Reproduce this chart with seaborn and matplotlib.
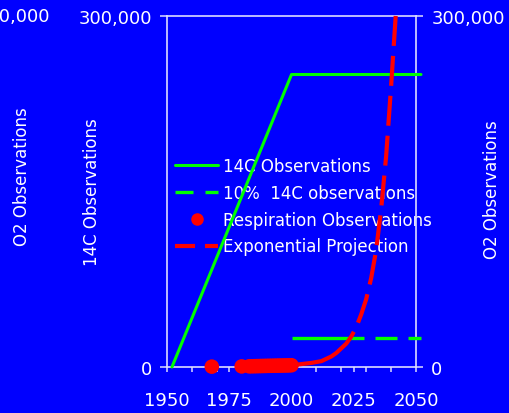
import matplotlib
matplotlib.use("Agg")
import matplotlib.pyplot as plt
from matplotlib.lines import Line2D
from matplotlib.ticker import MultipleLocator, FuncFormatter
import seaborn as sns

# ---- data -------------------------------------------------------------
c14_years = [1952, 2000, 2052]
c14_obs = [0, 250000, 250000]

c14_10pct_years = [2000, 2052]
c14_10pct_obs = [25000, 25000]

resp_years = [1968, 1980, 1983, 1984, 1985, 1986, 1987, 1988, 1989, 1990,
              1991, 1992, 1993, 1994, 1995, 1996, 1997, 1998, 1999, 2000]
resp_obs = [300, 500, 600, 650, 700, 750, 800, 850, 900, 950,
            1000, 1050, 1100, 1150, 1200, 1250, 1300, 1350, 1400, 1500]

proj_years = [2000, 2004, 2008, 2012, 2016, 2018, 2020, 2022, 2024, 2026,
              2028, 2030, 2032, 2034, 2036, 2038, 2040, 2042]
proj_obs = [1500, 2500, 3500, 5000, 9000, 12000, 16000, 20000, 26000, 34000,
            45000, 58000, 76000, 100000, 135000, 180000, 240000, 305000]

legend_labels = ["14C Observations", "10%  14C observations",
                 "Respiration Observations", "Exponential Projection"]

# ---- style ------------------------------------------------------------
BLUE = "#0000ff"
GREEN = "#00ff00"
RED = "#ff0000"
WHITE = "#ffffff"
SPINE = "#dcdcff"

sns.set_style("ticks")
plt.rcParams["font.family"] = ["DejaVu Sans"]
plt.rcParams["lines.scale_dashes"] = False

W, H = 509, 414
fig = plt.figure(figsize=(W / 100, H / 100), dpi=100, facecolor=BLUE)
x0, x1, y0, y1 = 167, 416, 17, 368
ax = fig.add_axes([x0 / W, 1 - y1 / H, (x1 - x0) / W, (y1 - y0) / H])
ax.set_facecolor(BLUE)


def px_dash(*seq):
    """dash pattern given in pixels -> points"""
    return (0, tuple(v * 0.72 for v in seq))


sns.lineplot(x=c14_years, y=c14_obs, ax=ax, color=GREEN, linewidth=2.2,
             clip_on=False, zorder=3)
sns.lineplot(x=c14_10pct_years, y=c14_10pct_obs, ax=ax, color=GREEN,
             linewidth=2.4, clip_on=False, zorder=3,
             linestyle=px_dash(72, 11, 22, 11, 22, 11))
sns.scatterplot(x=resp_years, y=resp_obs, ax=ax, color=RED, s=110,
                edgecolor="none", zorder=4, clip_on=False)
sns.lineplot(x=proj_years, y=proj_obs, ax=ax, color=RED, linewidth=3.0,
             clip_on=False, zorder=5,
             linestyle=px_dash(75, 10, 30, 10, 30, 10, 30, 10, 30, 10,
                               30, 10, 30, 10, 30, 10, 30, 10, 30, 10))

ax.set_xlim(1950, 2050)
ax.set_ylim(0, 300000)
ax.set_xticks([1950, 1975, 2000, 2025, 2050])
ax.xaxis.set_minor_locator(MultipleLocator(10))
ax.set_yticks([0, 300000])
ax.yaxis.set_major_formatter(FuncFormatter(lambda v, p: f"{int(v):,}"))

for s in ax.spines.values():
    s.set_color(SPINE)
    s.set_linewidth(1.2)

ax.tick_params(axis="x", which="both", direction="out", length=3.6,
               width=1.1, color=SPINE, labelcolor=WHITE, labelsize=13,
               pad=14)
ax.tick_params(axis="y", which="both", direction="out", length=5,
               width=1.1, color=SPINE, labelcolor=WHITE, labelsize=13,
               pad=6, left=True, right=True, labelleft=True, labelright=True)

ax.set_ylabel("14C Observations", color=WHITE, fontsize=12)
ax.yaxis.set_label_coords(-0.265, 0.5)
ax.set_xlabel("")

# outer O2 axis captions
fig.text(50 / W, 1 - 17 / H, "300,000", color=WHITE, fontsize=13,
         ha="right", va="center")
fig.text(22 / W, 1 - 177 / H, "O2 Observations", color=WHITE, fontsize=12,
         rotation=90, ha="center", va="center")
fig.text(492 / W, 1 - 190 / H, "O2 Observations", color=WHITE,
         fontsize=12, rotation=90, ha="center", va="center")

handles = [
    Line2D([], [], color=GREEN, linewidth=2.2),
    Line2D([], [], color=GREEN, linewidth=2.4, linestyle=px_dash(18, 12)),
    Line2D([], [], color=RED, marker="o", markersize=8, linestyle="none"),
    Line2D([], [], color=RED, linewidth=3.0, linestyle=px_dash(20, 10)),
]
leg = ax.legend(handles=handles, labels=legend_labels, loc="upper left",
                bbox_to_anchor=((175 - x0) / (x1 - x0), (y1 - 158) / (y1 - y0)),
                frameon=False, fontsize=12, labelcolor=WHITE,
                handlelength=2.6, handletextpad=0.3, labelspacing=0.53,
                borderpad=0, borderaxespad=0)
leg.set_zorder(2)

fig.savefig("out.png", dpi=100, facecolor=BLUE)
